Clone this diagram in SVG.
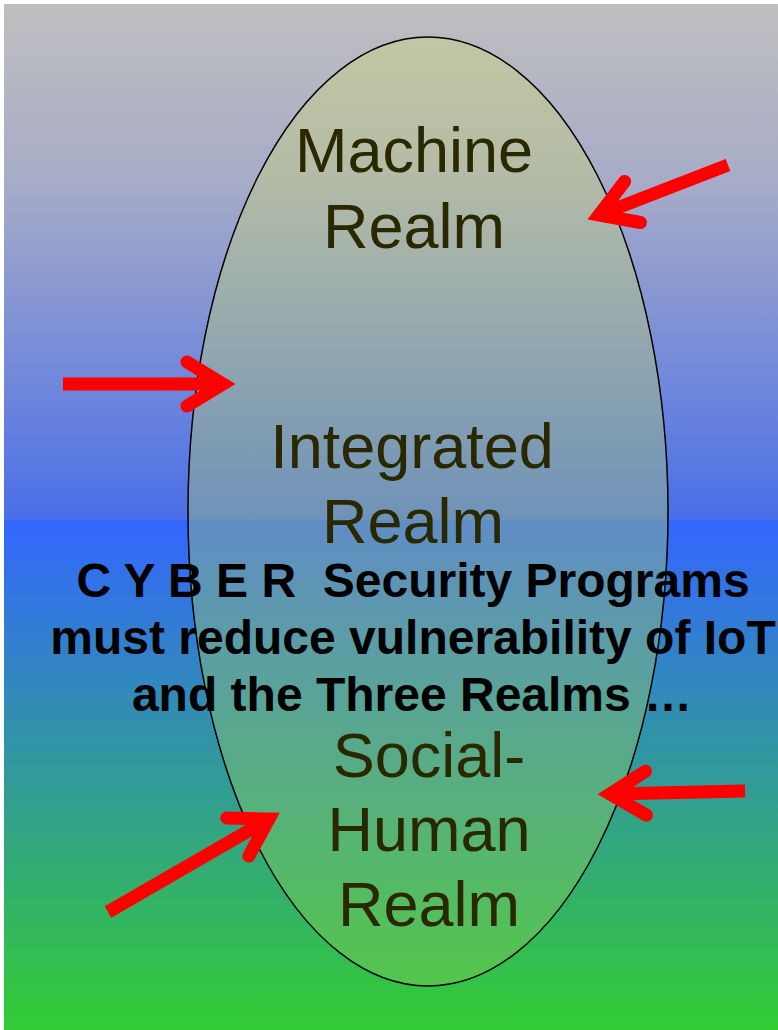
<svg xmlns="http://www.w3.org/2000/svg" width="778" height="1030" viewBox="0 0 778 1030">
  <defs>
    <linearGradient id="bgTop" x1="0" y1="0" x2="0" y2="1">
      <stop offset="0" stop-color="#bfbfbf"/>
      <stop offset="0.35" stop-color="#a6abc8"/>
      <stop offset="1" stop-color="#4a6ee8"/>
    </linearGradient>
    <linearGradient id="bgBot" x1="0" y1="0" x2="0" y2="1">
      <stop offset="0" stop-color="#3366ff"/>
      <stop offset="0.4" stop-color="#3190ae"/>
      <stop offset="1" stop-color="#33cc33"/>
    </linearGradient>
    <linearGradient id="ellFill" x1="0" y1="0" x2="0" y2="1">
      <stop offset="0" stop-color="#d4d870"/>
      <stop offset="1" stop-color="#8ccc55"/>
    </linearGradient>
    <marker id="head" markerUnits="userSpaceOnUse" orient="auto" refX="0" refY="0" markerWidth="100" markerHeight="100" overflow="visible">
      <path d="M-36,-22 L0,0 L-36,22" fill="none" stroke="#ff0000" stroke-width="13" stroke-linejoin="miter" stroke-miterlimit="10" stroke-linecap="round"/>
    </marker>
    <style>
      .realm { font-family: "Liberation Sans", Arial, sans-serif; font-size: 63px; fill: #2a2800; text-anchor: middle; }
      .msg { font-family: "Liberation Sans", Arial, sans-serif; font-size: 48px; font-weight: bold; fill: #000000; text-anchor: middle; }
      .arrow { stroke: #ff0000; stroke-width: 13; fill: none; stroke-linecap: butt; marker-end: url(#head); }
    </style>
  </defs>

  <rect x="0" y="0" width="778" height="1030" fill="#ffffff"/>
  <rect x="4" y="4" width="774" height="517" fill="url(#bgTop)"/>
  <rect x="4" y="520" width="774" height="510" fill="url(#bgBot)"/>

  <g id="realms">
    <ellipse cx="428" cy="511.5" rx="240" ry="474.5" fill="url(#ellFill)" fill-opacity="0.36" stroke="#000000" stroke-width="1.5"/>
  </g>

  <g id="machine-realm">
    <text class="realm" x="414" y="172">Machine</text>
    <text class="realm" x="414" y="248">Realm</text>
  </g>

  <g id="integrated-realm">
    <text class="realm" x="412" y="468">Integrated</text>
    <text class="realm" x="413" y="543">Realm</text>
  </g>

  <g id="social-human-realm">
    <text class="realm" x="429" y="777">Social-</text>
    <text class="realm" x="429" y="851">Human</text>
    <text class="realm" x="429" y="926">Realm</text>
  </g>

  <g id="message">
    <text class="msg" x="413" y="597" xml:space="preserve">C Y B E R  Security Programs</text>
    <text class="msg" x="413" y="654">must reduce vulnerability of IoT</text>
    <text class="msg" x="412" y="711">and the Three Realms …</text>
  </g>

  <g id="connectors">
    <line class="arrow" x1="728" y1="165" x2="599" y2="215"/>
    <line class="arrow" x1="63" y1="384" x2="223" y2="384"/>
    <line class="arrow" x1="745" y1="791" x2="610" y2="794"/>
    <line class="arrow" x1="108" y1="912" x2="269" y2="819"/>
  </g>
</svg>
